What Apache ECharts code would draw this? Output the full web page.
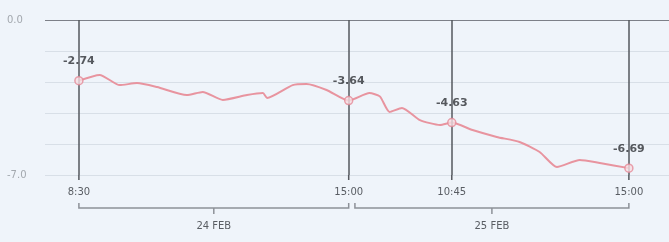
<!DOCTYPE html>
<html>
<head>
<meta charset="utf-8">
<script src="https://cdn.jsdelivr.net/npm/echarts@6/dist/echarts.min.js"></script>
<style>
  html, body { margin: 0; padding: 0; background: #eff4fa; }
  #chart { width: 669px; height: 242px; }
</style>
</head>
<body>
<div id="chart"></div>
<script>
// minutes of trading time since 24 FEB 8:30 (25 FEB starts after a short gap)
var times = [0, 30, 59, 84, 113, 156, 179, 208, 243, 266, 272, 309, 329, 358, 390,
  420, 435, 449, 467, 493, 522, 539, 569, 604, 637, 666, 691, 724, 753, 795];
var values = [-2.74, -2.48, -2.94, -2.85, -3.03, -3.39, -3.25, -3.61, -3.39, -3.30, -3.52, -2.94, -2.89, -3.16, -3.64,
  -3.30, -3.45, -4.15, -3.97, -4.52, -4.74, -4.63, -4.97, -5.28, -5.51, -5.96, -6.64, -6.32, -6.46, -6.69];

var markTimes = [0, 390, 539, 795];
var markValues = [-2.74, -3.64, -4.63, -6.69];
var tickLabels = ["8:30", "15:00", "10:45", "15:00"];

var days = ["24 FEB", "25 FEB"];
var dayStart = [0, 399];
var dayEnd = [390, 795];

var yMin = -7;
var yMax = 0;

var myChart = echarts.init(document.getElementById("chart"));

var lineData = times.map(function (t, i) { return [t, values[i]]; });
var markData = markTimes.map(function (t, i) { return [t, markValues[i]]; });
var bracketData = days.map(function (d, i) { return [dayStart[i], dayEnd[i], d]; });

var option = {
  backgroundColor: "#eff4fa",
  animation: false,
  grid: { left: 45, right: 0, top: 20, bottom: 67 },
  xAxis: {
    type: "value",
    min: -49,
    max: 853,
    show: false,
  },
  yAxis: {
    type: "value",
    min: yMin,
    max: yMax,
    interval: 1.4,
    axisLine: { show: false },
    axisTick: { show: false },
    axisLabel: {
      align: "left",
      margin: 38,
      color: "#a3a8ae",
      fontSize: 10,
      fontFamily: "DejaVu Sans",
      formatter: function (v) {
        if (Math.abs(v) < 0.01) return "0.0";
        if (Math.abs(v - yMin) < 0.01) return "-7.0";
        return "";
      },
    },
    splitLine: {
      lineStyle: {
        color: ["#d8dfe7", "#d8dfe7", "#d8dfe7", "#d8dfe7", "#d8dfe7", "#7d8088"],
        width: 1,
      },
    },
  },
  series: [
    {
      type: "line",
      data: lineData,
      smooth: 0.2,
      symbol: "none",
      lineStyle: { color: "#e8949f", width: 2 },
      z: 3,
      markLine: {
        silent: true,
        symbol: "none",
        lineStyle: { color: "#55585e", width: 1.5, type: "solid" },
        label: {
          position: "start",
          distance: 12,
          color: "#595d63",
          fontSize: 10,
          fontFamily: "DejaVu Sans",
        },
        data: markTimes.map(function (t, i) {
          return [
            { coord: [t, yMin], label: { formatter: tickLabels[i] } },
            { coord: [t, yMax] },
          ];
        }),
      },
    },
    {
      type: "scatter",
      data: markData,
      symbol: "circle",
      symbolSize: 8,
      itemStyle: { color: "#f6dde2", borderColor: "#e58a97", borderWidth: 1.5 },
      label: {
        show: true,
        position: "top",
        distance: 9,
        color: "#2e3136",
        fontSize: 11,
        fontWeight: "bold",
        fontFamily: "DejaVu Sans",
        formatter: function (p) { return p.value[1].toFixed(2); },
      },
      z: 5,
    },
    {
      // tick stubs under the vertical lines
      type: "custom",
      silent: true,
      clip: false,
      data: markTimes,
      renderItem: function (params, api) {
        var p = api.coord([api.value(0), yMin]);
        return {
          type: "line",
          shape: { x1: p[0], y1: p[1], x2: p[0], y2: p[1] + 5 },
          style: { stroke: "#55585e", lineWidth: 1.5 },
        };
      },
    },
    {
      type: "custom",
      silent: true,
      clip: false,
      data: bracketData,
      renderItem: function (params, api) {
        var p1 = api.coord([api.value(0), yMin]);
        var p2 = api.coord([api.value(1), yMin]);
        var y = p1[1] + 33;
        var mid = (p1[0] + p2[0]) / 2;
        var c = "#8d9198";
        return {
          type: "group",
          children: [
            {
              type: "polyline",
              shape: { points: [[p1[0], y - 5], [p1[0], y], [p2[0], y], [p2[0], y - 5]] },
              style: { stroke: c, lineWidth: 1.5, fill: null },
            },
            {
              type: "line",
              shape: { x1: mid, y1: y, x2: mid, y2: y + 6 },
              style: { stroke: c, lineWidth: 1.5 },
            },
            {
              type: "text",
              style: {
                x: mid,
                y: y + 18,
                text: days[params.dataIndex],
                align: "center",
                verticalAlign: "middle",
                fill: "#595d63",
                font: "10px DejaVu Sans",
              },
            },
          ],
        };
      },
    },
  ],
};

option && myChart.setOption(option);
</script>
</body>
</html>
